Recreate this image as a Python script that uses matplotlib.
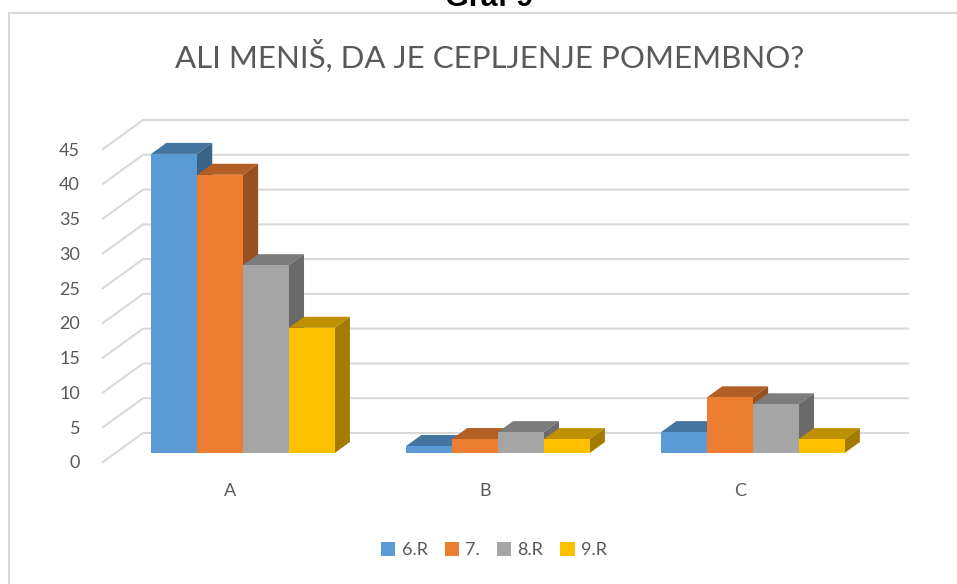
import matplotlib.pyplot as plt
import matplotlib.colors as mcolors
from matplotlib.patches import Polygon, Rectangle, Patch
import numpy as np

# %% data
categories = ['A', 'B', 'C']
series = ['6.R', '7.', '8.R', '9.R']
values_6r = [43, 1, 3]
values_7 = [40, 2, 8]
values_8r = [27, 3, 7]
values_9r = [18, 2, 2]
all_values = [values_6r, values_7, values_8r, values_9r]
colors = ['#5B9BD5', '#ED7D31', '#A5A5A5', '#FFC000']
yticks = list(range(0, 50, 5))

# %% 3D-look geometry (in data units)
DX = 0.157      # depth shift of back wall along x
DY = 4.17       # depth shift of back wall along y
f1, f2 = 0.31, 0.69   # bars sit between these depth fractions
w = 0.18        # bar width


def shade(c, k):
    r, g, b = mcolors.to_rgb(c)
    return (r * k, g * k, b * k)


plt.rcParams['font.family'] = ['Lato', 'DejaVu Sans']
fig = plt.figure(figsize=(9.57, 5.84), dpi=100)
W, H = 957, 584
ax = fig.add_axes([103 / W, 1 - 462 / H, (908 - 103) / W, (462 - 120) / H])
ax.set_xlim(-0.5, 2.5 + DX)
ax.set_ylim(0, 45 + DY)
for s in ax.spines.values():
    s.set_visible(False)

text_col = '#595959'

# gridlines: diagonal on the side + horizontal on back wall
grid_col = '#d9d9d9'
for v in yticks:
    ax.plot([-0.5, -0.5 + DX, 2.5 + DX], [v, v + DY, v + DY],
            color=grid_col, lw=1.5, clip_on=False, zorder=1)

# bars
b = f1 * DY
d = f2 - f1
for i in range(len(categories)):
    for k, vals in enumerate(all_values):
        v = vals[i]
        x0 = i - 2 * w + k * w + f1 * DX
        top = Polygon([(x0, b + v), (x0 + w, b + v),
                       (x0 + w + d * DX, b + v + d * DY), (x0 + d * DX, b + v + d * DY)],
                      closed=True, fc=shade(colors[k], 0.75), ec='none', zorder=3)
        side = Polygon([(x0 + w, b), (x0 + w + d * DX, b + d * DY),
                        (x0 + w + d * DX, b + v + d * DY), (x0 + w, b + v)],
                       closed=True, fc=shade(colors[k], 0.64), ec='none', zorder=3)
        front = Rectangle((x0, b), w, v, fc=colors[k], ec='none', zorder=3)
        for p in (top, side, front):
            p.set_clip_on(False)
            ax.add_patch(p)

ax.set_xticks(range(len(categories)))
ax.set_xticklabels(categories)
ax.set_yticks(yticks)
ax.tick_params(axis='x', length=0, pad=15, labelsize=13, labelcolor=text_col)
ax.tick_params(axis='y', length=0, pad=16.5, labelsize=13, labelcolor=text_col)

# chart frame
fig.patches.append(Rectangle((9 / W, -0.1), 1.2, 1 - 13 / H + 0.1,
                             transform=fig.transFigure, fc='none',
                             ec='#d9d9d9', lw=1.5, zorder=0))

# titles
fig.text(489 / W, 1 - 6 / H, 'Graf 9', ha='center', va='baseline',
         fontsize=22, fontweight='bold', family='Liberation Sans', color='black')
fig.text(490 / W, 1 - 68 / H, 'ALI MENIŠ, DA JE CEPLJENJE POMEMBNO?',
         ha='center', va='baseline', fontsize=22.5, color=text_col)

# legend
handles = [Patch(fc=c, ec='none') for c in colors]
fig.legend(handles, series, loc='center', bbox_to_anchor=(494 / W, 1 - 550 / H),
           ncol=4, frameon=False, fontsize=13, labelcolor=text_col,
           handlelength=0.78, handleheight=0.78, handletextpad=0.35,
           columnspacing=0.95)

plt.savefig('out.png', dpi=100)
